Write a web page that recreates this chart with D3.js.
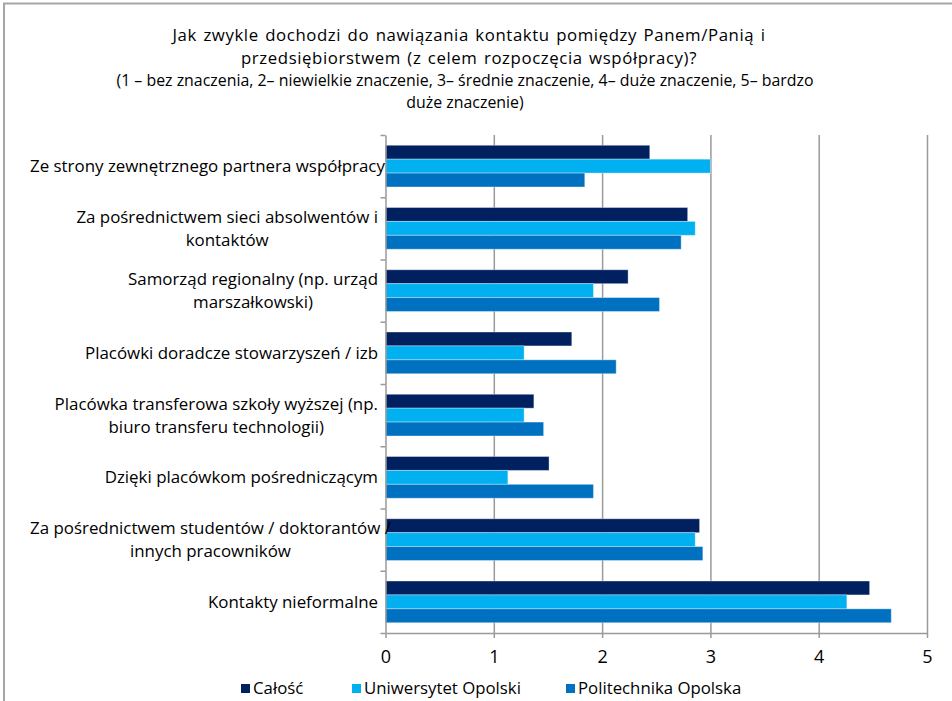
<!DOCTYPE html>
<html>
<head>
<meta charset="utf-8">
<script src="https://cdn.jsdelivr.net/npm/d3@7/dist/d3.min.js"></script>
<style>
  body { margin: 0; background: #fff; }
  svg { display: block; }
  text { font-family: "Open Sans", "Noto Sans", sans-serif; fill: #000; }
</style>
</head>
<body>
<svg id="chart" width="952" height="701"></svg>
<script>
// ---- data ----
const categories = [
  "Ze strony zewnętrznego partnera współpracy",
  "Za pośrednictwem sieci absolwentów i kontaktów",
  "Samorząd regionalny (np. urząd marszałkowski)",
  "Placówki doradcze stowarzyszeń / izb",
  "Placówka transferowa szkoły wyższej (np. biuro transferu technologii)",
  "Dzięki placówkom pośredniczącym",
  "Za pośrednictwem studentów / doktorantów / innych pracowników",
  "Kontakty nieformalne"
];
// wrapped lines of each category label
const categoryLines = [
  ["Ze strony zewnętrznego partnera współpracy"],
  ["Za pośrednictwem sieci absolwentów i", "kontaktów"],
  ["Samorząd regionalny (np. urząd", "marszałkowski)"],
  ["Placówki doradcze stowarzyszeń / izb"],
  ["Placówka transferowa szkoły wyższej (np.", "biuro transferu technologii)"],
  ["Dzięki placówkom pośredniczącym"],
  ["Za pośrednictwem studentów / doktorantów /", "innych pracowników"],
  ["Kontakty nieformalne"]
];
const seriesNames = ["Całość", "Uniwersytet Opolski", "Politechnika Opolska"];
const calosc       = [2.44, 2.79, 2.24, 1.72, 1.37, 1.51, 2.90, 4.47];
const uniwersytet  = [3.00, 2.86, 1.92, 1.28, 1.28, 1.13, 2.86, 4.26];
const politechnika = [1.84, 2.73, 2.53, 2.13, 1.46, 1.92, 2.93, 4.67];
const xTicks = [0, 1, 2, 3, 4, 5];
const titleLines = [
  "Jak zwykle dochodzi do nawiązania kontaktu pomiędzy Panem/Panią i",
  "przedsiębiorstwem (z celem rozpoczęcia współpracy)?"
];
const subtitleLines = [
  "(1 – bez znaczenia, 2– niewielkie znaczenie, 3– średnie znaczenie, 4– duże znaczenie, 5– bardzo",
  "duże znaczenie)"
];

// ---- styling ----
const colors = ["#002060", "#00B0F0", "#0070C0"];
const gridColor = "#9a9a9a";

const svg = d3.select("#chart");
const plot = { left: 385.5, right: 927, top: 135, bottom: 633 };

// outer frame (top and left edges)
svg.append("path")
  .attr("d", `M4,701 V3.5 H952`)
  .attr("fill", "none")
  .attr("stroke", "#a6a6a6")
  .attr("stroke-width", 2);

// title
const title = svg.append("g");
titleLines.forEach((t, i) => {
  title.append("text")
    .attr("x", 469).attr("y", 40.5 + i * 23)
    .attr("text-anchor", "middle")
    .attr("font-size", 16.8)
    .attr("letter-spacing", 0.6)
    .attr("word-spacing", 1.5)
    .text(t);
});
subtitleLines.forEach((t, i) => {
  title.append("text")
    .attr("x", 465).attr("y", 86 + i * 22)
    .attr("text-anchor", "middle")
    .attr("font-size", 15.9)
    .text(t);
});

// scales
const x = d3.scaleLinear().domain([0, 5]).range([plot.left, plot.right]);
const y = d3.scaleBand().domain(categories).range([plot.top, plot.bottom])
  .paddingInner(0.33).paddingOuter(0.165);
const ySub = d3.scaleBand().domain(seriesNames).range([0, y.bandwidth()]);
const yEdges = d3.scaleLinear().domain([0, categories.length]).range([plot.top, plot.bottom]);

// vertical gridlines
svg.append("g")
  .attr("transform", `translate(0,${plot.bottom})`)
  .call(d3.axisBottom(x).tickValues(xTicks.slice(1)).tickSize(-(plot.bottom - plot.top)).tickFormat(""))
  .call(g => g.select(".domain").remove())
  .call(g => g.selectAll("line").attr("stroke", gridColor).attr("stroke-width", 1.5));

// bars
const seriesValues = [calosc, uniwersytet, politechnika];
const rows = categories.map((c, i) => ({
  cat: c,
  vals: seriesNames.map((s, k) => ({ name: s, value: seriesValues[k][i], k }))
}));
const groups = svg.append("g").selectAll("g").data(rows).join("g")
  .attr("transform", d => `translate(0,${y(d.cat)})`);
groups.selectAll("rect").data(d => d.vals).join("rect")
  .attr("x", x(0))
  .attr("y", d => ySub(d.name))
  .attr("width", d => x(d.value) - x(0))
  .attr("height", ySub.bandwidth())
  .attr("fill", d => colors[d.k])
  .attr("stroke", "rgba(255,255,255,0.35)")
  .attr("stroke-width", 1);

// left axis (category boundaries)
svg.append("g")
  .attr("transform", `translate(${plot.left},0)`)
  .call(d3.axisLeft(yEdges).ticks(categories.length).tickSize(5).tickFormat("").tickSizeOuter(0))
  .call(g => g.selectAll("line,path").attr("stroke", gridColor).attr("stroke-width", 1.5));

// bottom axis
svg.append("g")
  .attr("transform", `translate(0,${plot.bottom})`)
  .call(d3.axisBottom(x).tickValues(xTicks).tickFormat(d3.format("d")).tickSize(5).tickSizeOuter(0).tickPadding(12))
  .call(g => g.selectAll("line,path").attr("stroke", gridColor).attr("stroke-width", 1.5))
  .call(g => g.selectAll("text").attr("font-size", 18).attr("font-family", '"Open Sans", sans-serif').attr("fill", "#000"));

// category labels: lines centred within a block right-aligned to the axis
const labelRight = 378;
const lineH = 23;
categoryLines.forEach((lines, i) => {
  const g = svg.append("g");
  const cy = y(categories[i]) + y.bandwidth() / 2;
  const texts = lines.map((l, j) => g.append("text")
    .attr("font-size", 16.9)
    .attr("y", cy + (j - (lines.length - 1) / 2) * lineH + 6)
    .text(l));
  const maxW = d3.max(texts, t => t.node().getComputedTextLength());
  const right = Math.max(labelRight, 30 + maxW);
  texts.forEach(t => t.attr("x", right - maxW / 2).attr("text-anchor", "middle"));
});

// legend
const legendX = [241, 352, 566];
const legend = svg.append("g");
seriesNames.forEach((s, k) => {
  legend.append("rect")
    .attr("x", legendX[k]).attr("y", 684)
    .attr("width", 9).attr("height", 9)
    .attr("fill", colors[k]);
  legend.append("text")
    .attr("x", legendX[k] + 12).attr("y", 694)
    .attr("font-size", 16.8)
    .text(s);
});
</script>
</body>
</html>
